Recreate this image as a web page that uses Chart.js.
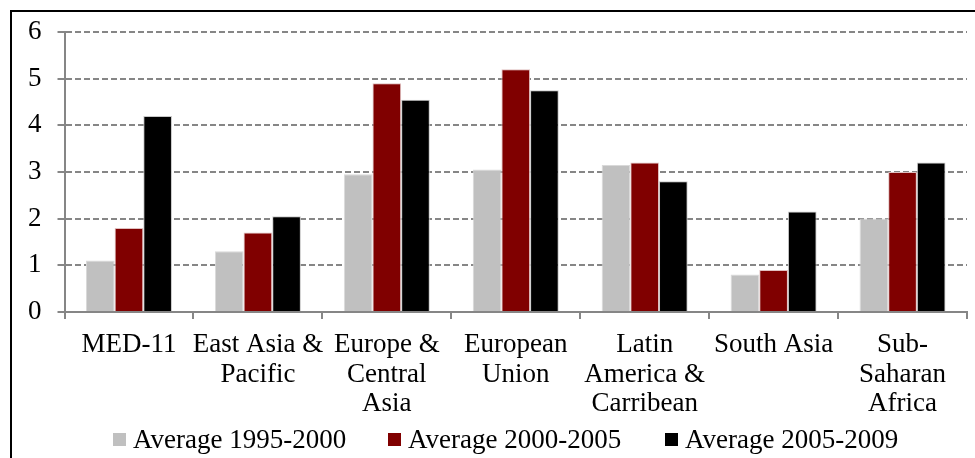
<!DOCTYPE html>
<html lang="en">
<head>
    <meta charset="UTF-8">
    <title>Average by region</title>
    <style>
        body { margin: 0; background: #fff; }
        #wrap { position: relative; width: 975px; height: 458px; overflow: hidden; }
        #legend { position: absolute; left: 0; top: 424px; width: 975px; height: 30px;
            font-family: 'Liberation Serif', 'Times New Roman', serif; font-size: 27px; color: #000; }
        #legend .item { position: absolute; top: 0; white-space: nowrap; line-height: 30px; }
        #legend .box { position: absolute; top: 9px; width: 13px; height: 13px; }
        #legend .txt { position: absolute; left: 20px; top: 0; }
    </style>
</head>
<body>
    <div id="wrap">
        <canvas id="regionChart" width="975" height="458"></canvas>
        <div id="legend"></div>
    </div>
<script src="https://cdn.jsdelivr.net/npm/chart.js@4/dist/chart.umd.min.js"></script>
<script>
    const regions = ["MED-11", ["East Asia &", "Pacific"], ["Europe &", "Central", "Asia"],
        ["European", "Union"], ["Latin", "America &", "Carribean"], "South Asia",
        ["Sub-", "Saharan", "Africa"]];
    const avg1995 = [1.1, 1.3, 2.95, 3.05, 3.15, 0.8, 2.0];
    const avg2000 = [1.8, 1.7, 4.9, 5.2, 3.2, 0.9, 3.0];
    const avg2005 = [4.2, 2.05, 4.55, 4.75, 2.8, 2.15, 3.2];
    const yTicks = [0, 1, 2, 3, 4, 5, 6];
    const legendLeft = [113, 388, 665];

    // frame line around the figure (left + top edge visible)
    const framePlugin = {
        id: 'frame',
        afterDraw(chart) {
            const c = chart.ctx;
            c.save();
            c.strokeStyle = '#000';
            c.lineWidth = 2;
            c.beginPath();
            c.moveTo(11, 458);
            c.lineTo(11, 11);
            c.lineTo(975, 11);
            c.stroke();
            c.restore();
        }
    };

    const font = { family: "'Liberation Serif', 'Times New Roman', serif", size: 27, lineHeight: 1.1 };

    const chart = new Chart(document.getElementById('regionChart'), {
        type: 'bar',
        data: {
            labels: regions,
            datasets: [
                { label: 'Average 1995-2000', data: avg1995, backgroundColor: '#c0c0c0', borderColor: '#d9d9d9', borderWidth: 1 },
                { label: 'Average 2000-2005', data: avg2000, backgroundColor: '#800000', borderColor: '#e0c0c0', borderWidth: 1 },
                { label: 'Average 2005-2009', data: avg2005, backgroundColor: '#000000', borderColor: '#c8c8c8', borderWidth: 1 }
            ]
        },
        options: {
            responsive: false,
            animation: false,
            categoryPercentage: 0.667,
            barPercentage: 1,
            layout: { padding: { left: 12, right: 8, top: 32, bottom: 28 } },
            plugins: {
                legend: { display: false },
                tooltip: { enabled: false }
            },
            scales: {
                x: {
                    grid: { offset: true, drawOnChartArea: false, tickLength: 7, color: '#868686', lineWidth: 2 },
                    border: { color: '#868686', width: 2 },
                    ticks: { font: font, color: '#000', padding: 11, maxRotation: 0, autoSkip: false }
                },
                y: {
                    min: 0,
                    max: 6,
                    afterBuildTicks(axis) { axis.ticks = yTicks.map(v => ({ value: v })); },
                    grid: { color: '#868686', lineWidth: 2, tickLength: 7, tickBorderDash: [] },
                    border: { color: '#868686', width: 2, dash: [6, 3] },
                    ticks: { font: font, color: '#000', padding: 16 }
                }
            }
        },
        plugins: [framePlugin]
    });

    // legend built from the chart's datasets
    const legend = document.getElementById('legend');
    chart.data.datasets.forEach((ds, i) => {
        const item = document.createElement('div');
        item.className = 'item';
        item.style.left = legendLeft[i] + 'px';
        item.innerHTML = '<span class="box" style="background:' + ds.backgroundColor + '"></span>' +
            '<span class="txt">' + ds.label + '</span>';
        legend.appendChild(item);
    });
</script>
</body>
</html>
